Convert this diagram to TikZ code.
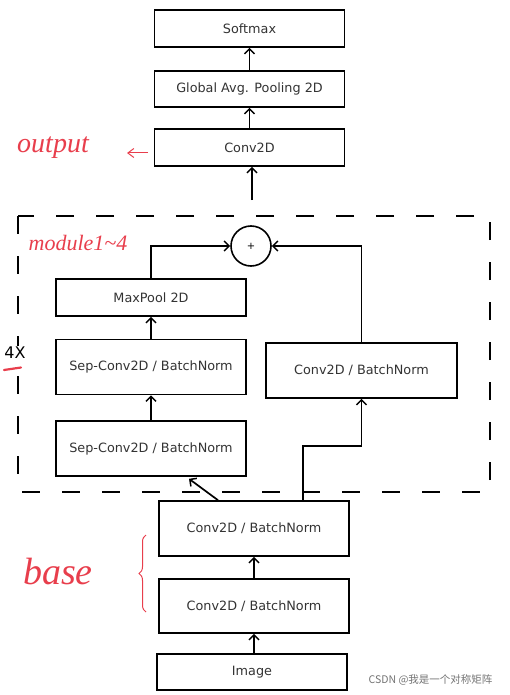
\documentclass[tikz,border=0pt]{standalone}
\usepackage{fontspec}
\setmainfont{DejaVu Sans}
\newfontfamily\handfont{Liberation Serif}
\newfontfamily\cjkfont{Noto Sans CJK SC}
\usetikzlibrary{arrows.meta,decorations.pathreplacing}
\definecolor{handred}{RGB}{232,62,76}
\definecolor{boxtext}{RGB}{51,51,51}
\tikzset{
  block/.style={draw, line width=1.6pt, minimum width=190pt, minimum height=37pt,
    inner sep=0pt, text=boxtext, font=\fontsize{12.8}{15}\selectfont},
  tallblock/.style={block, minimum height=55pt},
  link/.style={->, line width=1.7pt},
  hand/.style={text=handred, font=\handfont\itshape},
}
\begin{document}
\begin{tikzpicture}[x=1pt, y=-1pt, >={Straight Barb[length=5pt,width=10pt,line width=1.5pt]}]
\useasboundingbox (0,0) rectangle (509,695);
% output head
\node[block] (softmax) at (249.5,28.5) {Softmax};
\node[block, minimum height=36pt] (gap) at (249.5,89) {Global Avg. Pooling 2D};
\node[block] (conv) at (249.5,147.5) {Conv2D};
\draw[link] (gap) -- (softmax);
\draw[link] (conv) -- (gap);
\coordinate (modout) at (252,200);
\draw[link] (modout) -- (modout |- conv.south);
% module, repeated 4x
\draw[line width=1.6pt, dash pattern=on 18pt off 22pt] (18,216) rectangle (490,492);
\node[draw, circle, line width=1.6pt, minimum size=40pt, inner sep=0pt] (plus) at (251,246) {+};
\node[block] (maxpool) at (151,297.5) {MaxPool 2D};
\node[tallblock] (sepA) at (151,367) {Sep-Conv2D / BatchNorm};
\node[tallblock] (sepB) at (151,448.5) {Sep-Conv2D / BatchNorm};
\node[tallblock, minimum width=191pt] (convR) at (361.5,370.5) {Conv2D / BatchNorm};
\draw[link] (sepB) -- (sepA);
\draw[link] (sepA) -- (maxpool);
\draw[link] (maxpool.north) |- (plus.west);
\draw[link] (convR.north) |- (plus.east);
% base
\node[tallblock] (baseA) at (254,528.5) {Conv2D / BatchNorm};
\node[tallblock, minimum height=54pt] (baseB) at (254,606) {Conv2D / BatchNorm};
\node[block, minimum height=36pt] (image) at (252,672) {Image};
\draw[link] (image.north -| baseB.south) -- (baseB.south);
\draw[link] (baseB) -- (baseA);
\draw[link] ([xshift=-36pt]baseA.north) -- ([xshift=38pt, yshift=-2pt]sepB.south);
\draw[link] ([xshift=49pt]baseA.north) -- ++(0,-54) -| (convR.south);
% handwritten notes
\node[hand, font=\handfont\itshape\fontsize{28}{30}\selectfont] (outnote) at (53,148) {output};
\coordinate (outtail) at (148,153);
\coordinate (outtip) at (127,153);
\draw[handred, line width=1pt, -{Straight Barb[length=6pt,width=9pt]}] (outtail) -- (outtip);
\node[hand, font=\handfont\itshape\fontsize{22}{24}\selectfont] (modnote) at (78,243) {module1\textasciitilde 4};
\node[text=black, fill=white, inner sep=1pt, font=\fontsize{16}{18}\selectfont] (times) at (15,353) {4X};
\draw[handred, line width=2.2pt, line cap=round] (4,370) -- (21,367.5);
\node[hand, font=\handfont\itshape\fontsize{38}{40}\selectfont] (basenote) at (58,572) {base};
\draw[handred, line width=1pt, decorate, decoration={brace, amplitude=7pt}] (146,612) -- (146,535);
% watermark
\node[anchor=east, text=black!55, font=\cjkfont\fontsize{10.5}{12}\selectfont] (mark) at (496,680) {CSDN @我是一个对称矩阵};
\end{tikzpicture}
\end{document}
